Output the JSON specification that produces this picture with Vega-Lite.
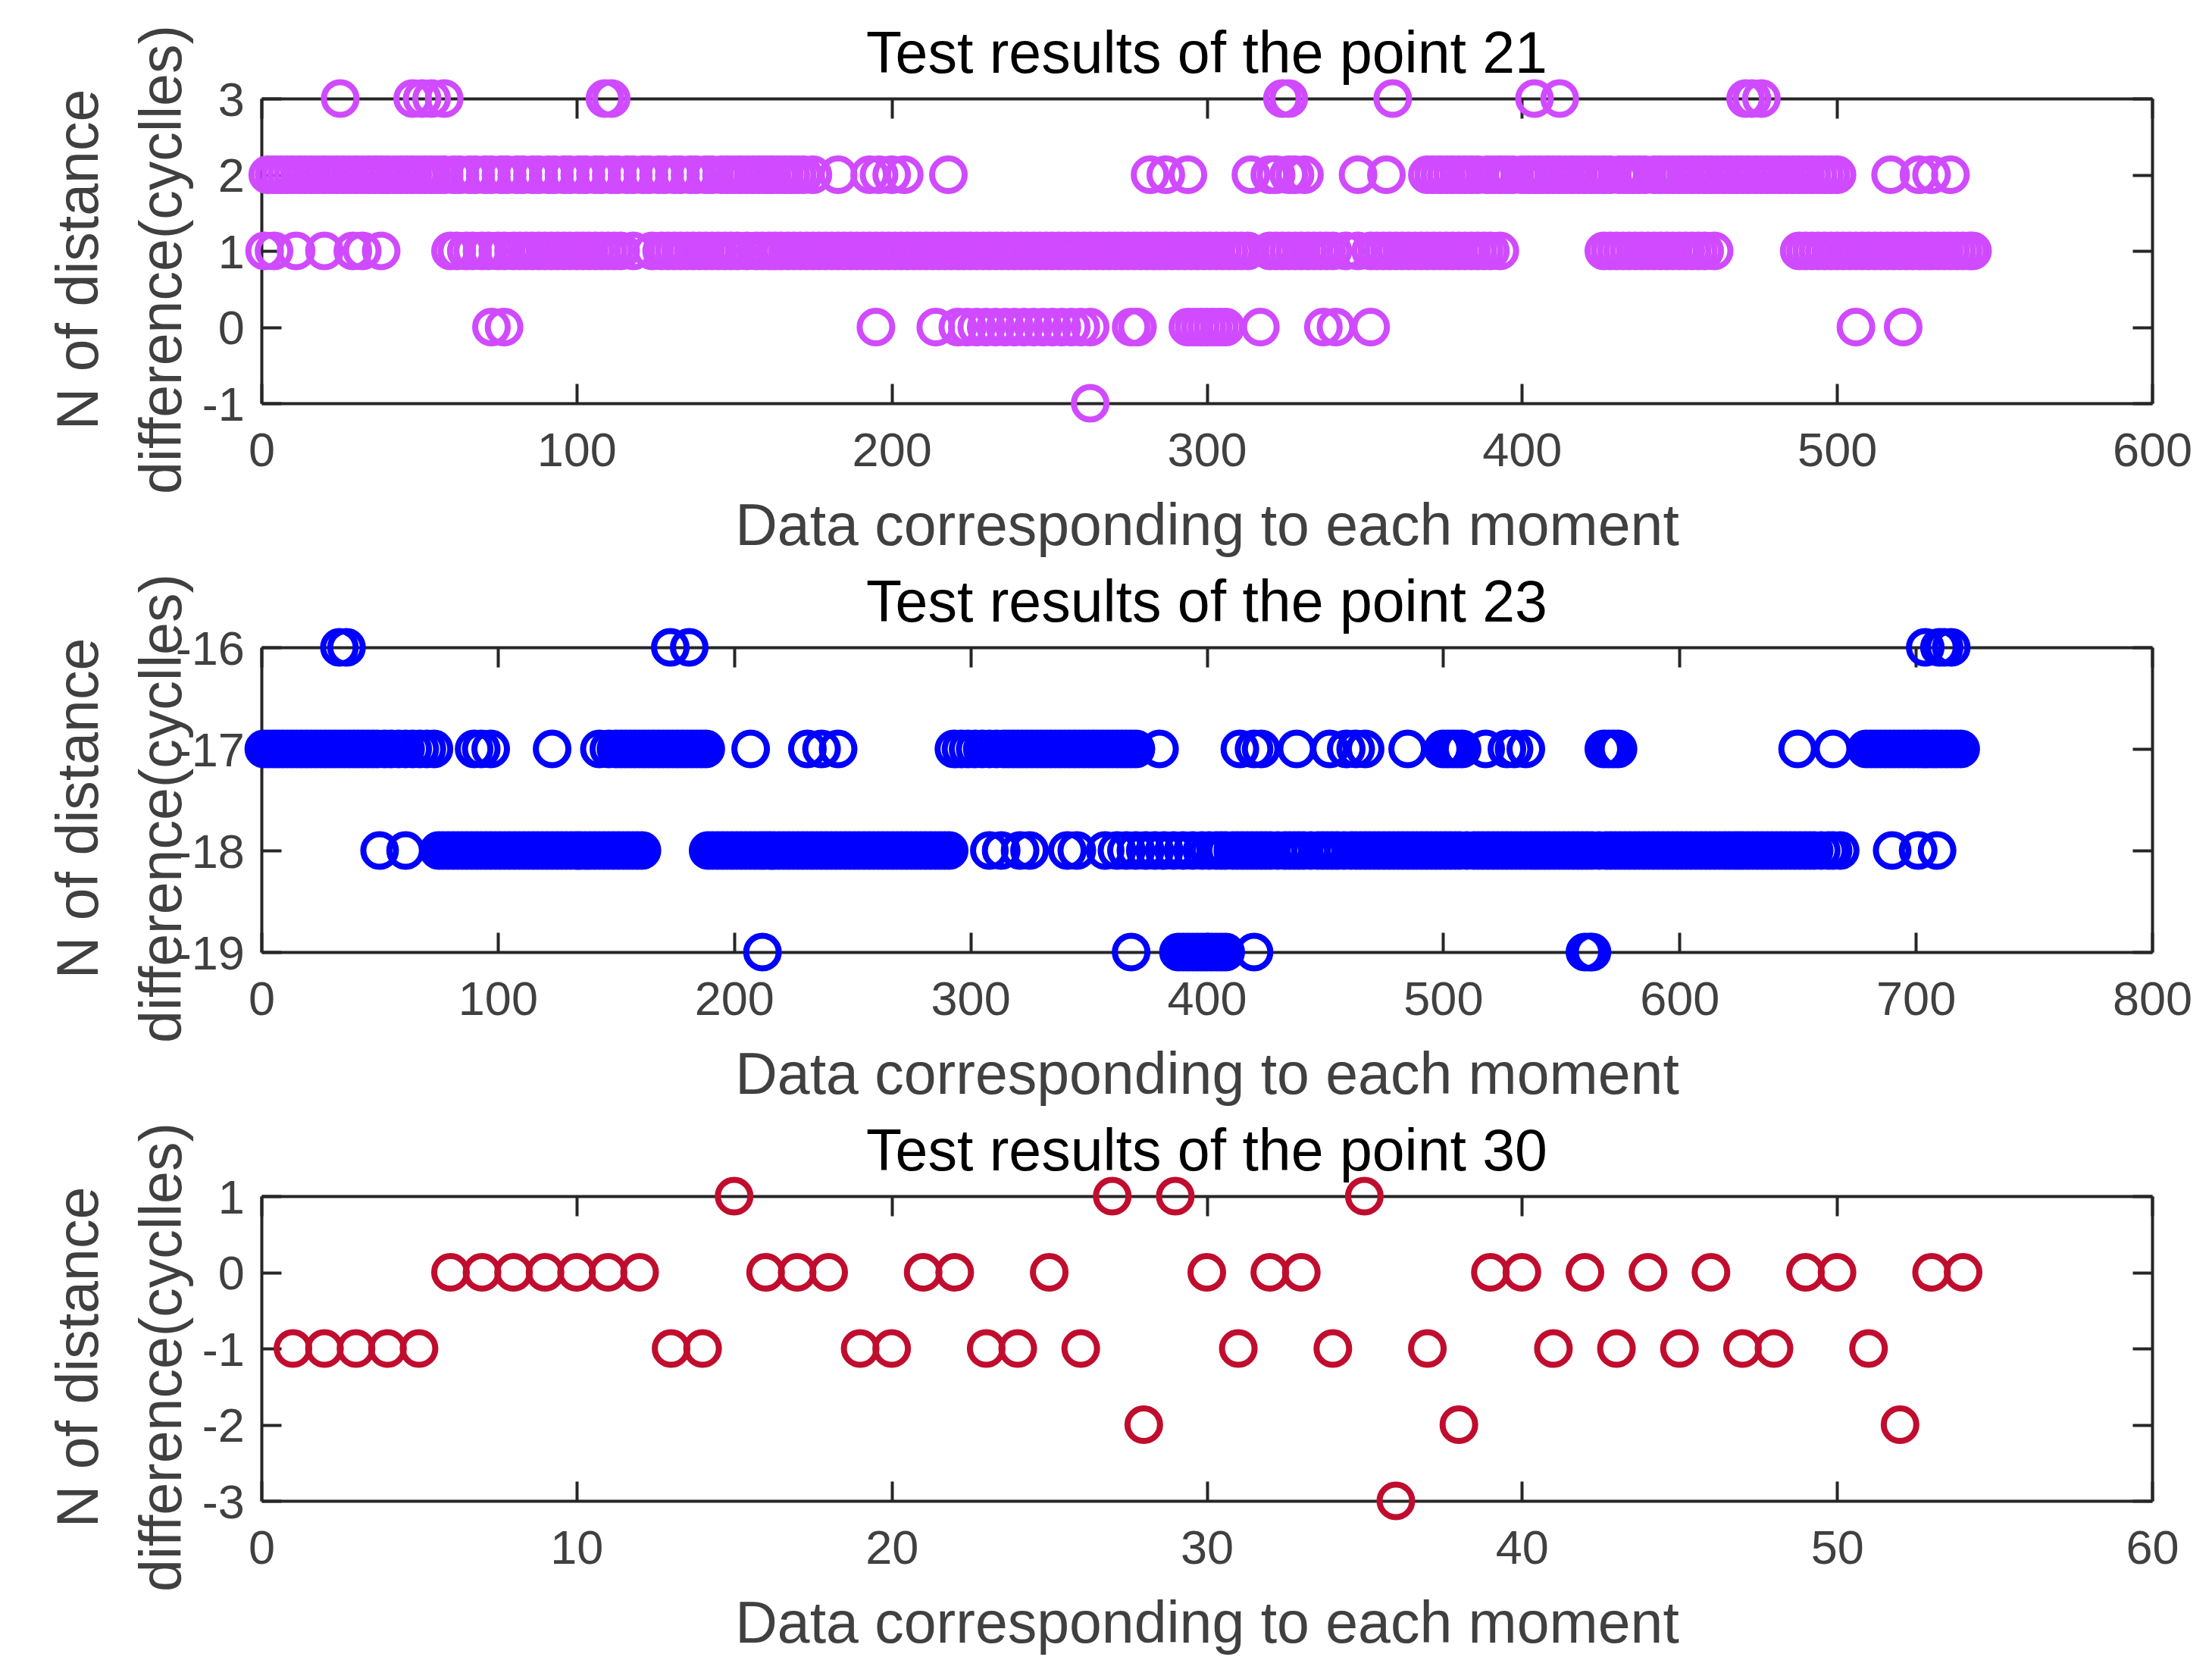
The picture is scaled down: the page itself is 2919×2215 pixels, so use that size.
{
  "$schema": "https://vega.github.io/schema/vega-lite/v6.json",
  "background": "white",
  "padding": {"left": 66, "top": 32, "right": 20, "bottom": 20},
  "bounds": "flush",
  "spacing": 322,
  "config": {
    "view": {"stroke": null},
    "font": "Liberation Sans",
    "axis": {
      "labelFont": "Liberation Sans", "titleFont": "Liberation Sans",
      "labelFontSize": 63, "labelColor": "#404040",
      "titleFontSize": 77, "titleColor": "#404040", "titleFontWeight": "normal",
      "domainColor": "#262626", "domainWidth": 4,
      "tickColor": "#262626", "tickWidth": 4, "tickSize": -26,
      "grid": false, "labelOverlap": false, "labelFlush": false,
      "labelExpr": "toString(datum.value)"
    },
    "axisBottom": {"labelPadding": 58, "titleX": 1247.5, "titleY": 186, "titleBaseline": "alphabetic", "titleAlign": "center", "titleAngle": 0},
    "axisLeft": {"labelPadding": 48.6, "labelOffset": 3, "titleX": -217, "titleY": 212, "titleBaseline": "alphabetic", "titleAlign": "center", "titleAngle": 270, "titleLineHeight": 110},
    "title": {"font": "Liberation Sans", "fontSize": 77, "fontWeight": "normal", "color": "#000000", "baseline": "alphabetic", "offset": -80, "anchor": "middle", "frame": "group"},
    "point": {"shape": "circle", "filled": false, "size": 1850, "strokeWidth": 8, "opacity": 1}
  },
  "vconcat": [
    {
      "width": 2495, "height": 402,
      "title": "Test results of the point 21",
      "data": {"values": [
        {"x":25,"y":3},{"x":48,"y":3},{"x":51,"y":3},{"x":54,"y":3},{"x":58,"y":3},{"x":109,"y":3},{"x":111,"y":3},{"x":324,"y":3},{"x":326,"y":3},{"x":359,"y":3},{"x":404,"y":3},{"x":412,"y":3},{"x":471,"y":3},{"x":473,"y":3},{"x":476,"y":3},
        {"x":2,"y":2},{"x":4,"y":2},{"x":6,"y":2},{"x":8,"y":2},{"x":10,"y":2},{"x":12,"y":2},{"x":14,"y":2},{"x":16,"y":2},{"x":18,"y":2},{"x":20,"y":2},{"x":22,"y":2},{"x":24,"y":2},{"x":26,"y":2},{"x":28,"y":2},{"x":30,"y":2},{"x":32,"y":2},{"x":34,"y":2},{"x":36,"y":2},{"x":38,"y":2},{"x":40,"y":2},{"x":42,"y":2},{"x":44,"y":2},{"x":46,"y":2},{"x":48,"y":2},{"x":50,"y":2},{"x":52,"y":2},{"x":54,"y":2},{"x":56,"y":2},{"x":58,"y":2},
        {"x":61,"y":2},{"x":63,"y":2},{"x":66,"y":2},{"x":68,"y":2},{"x":71,"y":2},{"x":73,"y":2},{"x":76,"y":2},{"x":78,"y":2},{"x":81,"y":2},{"x":83,"y":2},{"x":86,"y":2},{"x":88,"y":2},{"x":91,"y":2},{"x":93,"y":2},{"x":96,"y":2},{"x":98,"y":2},{"x":101,"y":2},{"x":103,"y":2},{"x":106,"y":2},{"x":108,"y":2},{"x":111,"y":2},{"x":113,"y":2},{"x":116,"y":2},{"x":118,"y":2},{"x":121,"y":2},{"x":123,"y":2},{"x":126,"y":2},{"x":128,"y":2},{"x":131,"y":2},{"x":133,"y":2},{"x":136,"y":2},{"x":138,"y":2},{"x":141,"y":2},{"x":143,"y":2},{"x":146,"y":2},{"x":148,"y":2},
        {"x":150,"y":2},{"x":152,"y":2},{"x":154,"y":2},{"x":156,"y":2},{"x":158,"y":2},{"x":160,"y":2},{"x":162,"y":2},{"x":164,"y":2},{"x":166,"y":2},{"x":168,"y":2},{"x":170,"y":2},{"x":172,"y":2},{"x":175,"y":2},{"x":183,"y":2},{"x":193,"y":2},{"x":196,"y":2},{"x":200,"y":2},{"x":204,"y":2},{"x":218,"y":2},
        {"x":282,"y":2},{"x":287,"y":2},{"x":294,"y":2},{"x":314,"y":2},{"x":320,"y":2},{"x":322,"y":2},{"x":326,"y":2},{"x":328,"y":2},{"x":331,"y":2},{"x":348,"y":2},{"x":357,"y":2},
        {"x":370,"y":2},{"x":372,"y":2},{"x":374,"y":2},{"x":376,"y":2},{"x":378,"y":2},{"x":380,"y":2},{"x":382,"y":2},{"x":384,"y":2},{"x":386,"y":2},{"x":389,"y":2},{"x":391,"y":2},{"x":393,"y":2},{"x":395,"y":2},{"x":397,"y":2},{"x":400,"y":2},{"x":402,"y":2},{"x":404,"y":2},{"x":406,"y":2},{"x":408,"y":2},{"x":410,"y":2},{"x":412,"y":2},{"x":414,"y":2},{"x":416,"y":2},{"x":418,"y":2},{"x":420,"y":2},{"x":422,"y":2},{"x":424,"y":2},{"x":426,"y":2},{"x":428,"y":2},{"x":431,"y":2},{"x":433,"y":2},{"x":435,"y":2},{"x":437,"y":2},{"x":439,"y":2},{"x":442,"y":2},{"x":444,"y":2},{"x":446,"y":2},{"x":448,"y":2},{"x":450,"y":2},{"x":452,"y":2},{"x":454,"y":2},{"x":456,"y":2},{"x":458,"y":2},{"x":460,"y":2},{"x":462,"y":2},{"x":464,"y":2},{"x":466,"y":2},{"x":468,"y":2},{"x":470,"y":2},{"x":472,"y":2},{"x":474,"y":2},{"x":476,"y":2},{"x":478,"y":2},{"x":480,"y":2},{"x":482,"y":2},{"x":484,"y":2},{"x":486,"y":2},{"x":488,"y":2},{"x":490,"y":2},{"x":492,"y":2},{"x":494,"y":2},{"x":496,"y":2},{"x":498,"y":2},{"x":500,"y":2},
        {"x":517,"y":2},{"x":526,"y":2},{"x":530,"y":2},{"x":536,"y":2},
        {"x":1,"y":1},{"x":4,"y":1},{"x":11,"y":1},{"x":20,"y":1},{"x":29,"y":1},{"x":32,"y":1},{"x":38,"y":1},
        {"x":60,"y":1},{"x":62,"y":1},{"x":65,"y":1},{"x":67,"y":1},{"x":70,"y":1},{"x":72,"y":1},{"x":75,"y":1},{"x":77,"y":1},{"x":80,"y":1},{"x":82,"y":1},{"x":84,"y":1},{"x":86,"y":1},{"x":88,"y":1},{"x":90,"y":1},{"x":92,"y":1},{"x":94,"y":1},{"x":96,"y":1},{"x":98,"y":1},{"x":100,"y":1},{"x":102,"y":1},{"x":104,"y":1},{"x":106,"y":1},{"x":108,"y":1},{"x":110,"y":1},{"x":112,"y":1},{"x":114,"y":1},{"x":118,"y":1},{"x":124,"y":1},{"x":127,"y":1},{"x":129,"y":1},{"x":131,"y":1},{"x":133,"y":1},{"x":135,"y":1},{"x":137,"y":1},{"x":139,"y":1},{"x":141,"y":1},{"x":143,"y":1},{"x":145,"y":1},{"x":147,"y":1},{"x":149,"y":1},{"x":151,"y":1},{"x":154,"y":1},{"x":157,"y":1},{"x":159,"y":1},{"x":161,"y":1},{"x":163,"y":1},{"x":165,"y":1},{"x":167,"y":1},{"x":169,"y":1},{"x":171,"y":1},{"x":173,"y":1},{"x":175,"y":1},{"x":177,"y":1},{"x":179,"y":1},{"x":181,"y":1},{"x":183,"y":1},{"x":185,"y":1},{"x":187,"y":1},{"x":189,"y":1},{"x":191,"y":1},{"x":193,"y":1},{"x":195,"y":1},{"x":197,"y":1},{"x":199,"y":1},{"x":201,"y":1},{"x":203,"y":1},{"x":205,"y":1},{"x":207,"y":1},{"x":209,"y":1},{"x":211,"y":1},{"x":213,"y":1},{"x":215,"y":1},{"x":217,"y":1},{"x":219,"y":1},{"x":221,"y":1},{"x":223,"y":1},{"x":225,"y":1},{"x":227,"y":1},{"x":229,"y":1},{"x":231,"y":1},{"x":233,"y":1},{"x":235,"y":1},{"x":237,"y":1},{"x":239,"y":1},{"x":241,"y":1},{"x":243,"y":1},{"x":245,"y":1},{"x":247,"y":1},{"x":249,"y":1},{"x":251,"y":1},{"x":253,"y":1},{"x":255,"y":1},{"x":257,"y":1},{"x":259,"y":1},{"x":261,"y":1},{"x":263,"y":1},{"x":265,"y":1},{"x":267,"y":1},{"x":269,"y":1},{"x":271,"y":1},{"x":273,"y":1},{"x":275,"y":1},{"x":277,"y":1},{"x":279,"y":1},{"x":281,"y":1},{"x":283,"y":1},{"x":285,"y":1},{"x":287,"y":1},{"x":289,"y":1},{"x":291,"y":1},{"x":293,"y":1},{"x":295,"y":1},{"x":297,"y":1},{"x":299,"y":1},{"x":301,"y":1},{"x":303,"y":1},{"x":305,"y":1},{"x":307,"y":1},{"x":309,"y":1},{"x":311,"y":1},{"x":313,"y":1},{"x":320,"y":1},{"x":322,"y":1},{"x":324,"y":1},{"x":326,"y":1},{"x":328,"y":1},{"x":330,"y":1},{"x":332,"y":1},{"x":334,"y":1},{"x":336,"y":1},{"x":338,"y":1},{"x":340,"y":1},{"x":344,"y":1},{"x":348,"y":1},{"x":352,"y":1},{"x":354,"y":1},{"x":356,"y":1},{"x":358,"y":1},{"x":360,"y":1},{"x":362,"y":1},{"x":364,"y":1},{"x":366,"y":1},{"x":368,"y":1},{"x":370,"y":1},{"x":372,"y":1},{"x":374,"y":1},{"x":376,"y":1},{"x":378,"y":1},{"x":380,"y":1},{"x":382,"y":1},{"x":384,"y":1},{"x":386,"y":1},{"x":388,"y":1},{"x":390,"y":1},{"x":393,"y":1},
        {"x":426,"y":1},{"x":428,"y":1},{"x":430,"y":1},{"x":432,"y":1},{"x":434,"y":1},{"x":436,"y":1},{"x":438,"y":1},{"x":440,"y":1},{"x":442,"y":1},{"x":444,"y":1},{"x":446,"y":1},{"x":448,"y":1},{"x":450,"y":1},{"x":452,"y":1},{"x":454,"y":1},{"x":456,"y":1},{"x":458,"y":1},{"x":461,"y":1},
        {"x":488,"y":1},{"x":490,"y":1},{"x":492,"y":1},{"x":494,"y":1},{"x":496,"y":1},{"x":498,"y":1},{"x":500,"y":1},{"x":502,"y":1},{"x":504,"y":1},{"x":506,"y":1},{"x":508,"y":1},{"x":510,"y":1},{"x":512,"y":1},{"x":514,"y":1},{"x":516,"y":1},{"x":518,"y":1},{"x":520,"y":1},{"x":522,"y":1},{"x":524,"y":1},{"x":526,"y":1},{"x":528,"y":1},{"x":530,"y":1},{"x":532,"y":1},{"x":534,"y":1},{"x":536,"y":1},{"x":538,"y":1},{"x":540,"y":1},{"x":542,"y":1},{"x":543,"y":1},
        {"x":73,"y":0},{"x":77,"y":0},{"x":195,"y":0},{"x":214,"y":0},{"x":221,"y":0},{"x":224,"y":0},{"x":227,"y":0},{"x":230,"y":0},{"x":233,"y":0},{"x":236,"y":0},{"x":239,"y":0},{"x":242,"y":0},{"x":245,"y":0},{"x":248,"y":0},{"x":251,"y":0},{"x":254,"y":0},{"x":257,"y":0},{"x":260,"y":0},{"x":263,"y":0},{"x":276,"y":0},{"x":278,"y":0},{"x":294,"y":0},{"x":296,"y":0},{"x":298,"y":0},{"x":300,"y":0},{"x":302,"y":0},{"x":304,"y":0},{"x":306,"y":0},{"x":317,"y":0},{"x":337,"y":0},{"x":341,"y":0},{"x":352,"y":0},{"x":506,"y":0},{"x":521,"y":0},
        {"x":263,"y":-1}
      ]},
      "layer": [
        {"mark": {"type": "point", "color": "#D04AFF"},
         "encoding": {
           "x": {"field": "x", "type": "quantitative", "scale": {"domain": [0, 600], "nice": false, "zero": false},
                 "axis": {"orient": "bottom", "values": [0,100,200,300,400,500,600], "title": "Data corresponding to each moment"}},
           "y": {"field": "y", "type": "quantitative", "scale": {"domain": [-1, 3], "nice": false, "zero": false},
                 "axis": {"orient": "left", "values": [-1,0,1,2,3], "title": ["N of distance", "difference(cyclles)"]}}
         }},
        {"mark": {"type": "point", "opacity": 0},
         "encoding": {
           "x": {"field": "x", "type": "quantitative", "scale": {"domain": [0, 600], "nice": false, "zero": false},
                 "axis": {"orient": "top", "values": [0,100,200,300,400,500,600], "labels": false, "title": null}},
           "y": {"field": "y", "type": "quantitative", "scale": {"domain": [-1, 3], "nice": false, "zero": false},
                 "axis": {"orient": "right", "values": [-1,0,1,2,3], "labels": false, "title": null}}
         }}
      ],
      "resolve": {"axis": {"x": "independent", "y": "independent"}}
    },
    {
      "width": 2495, "height": 402,
      "title": "Test results of the point 23",
      "data": {"values": [
        {"x":33,"y":-16},{"x":36,"y":-16},{"x":173,"y":-16},{"x":181,"y":-16},{"x":704,"y":-16},{"x":710,"y":-16},{"x":712,"y":-16},{"x":715,"y":-16},
        {"x":1,"y":-17},{"x":3,"y":-17},{"x":5,"y":-17},{"x":7,"y":-17},{"x":9,"y":-17},{"x":11,"y":-17},{"x":13,"y":-17},{"x":15,"y":-17},{"x":17,"y":-17},{"x":19,"y":-17},{"x":21,"y":-17},{"x":23,"y":-17},{"x":25,"y":-17},{"x":27,"y":-17},{"x":29,"y":-17},{"x":31,"y":-17},{"x":33,"y":-17},{"x":35,"y":-17},{"x":37,"y":-17},{"x":39,"y":-17},{"x":41,"y":-17},{"x":43,"y":-17},{"x":45,"y":-17},{"x":47,"y":-17},{"x":49,"y":-17},{"x":52,"y":-17},{"x":55,"y":-17},{"x":58,"y":-17},{"x":61,"y":-17},{"x":64,"y":-17},{"x":67,"y":-17},{"x":70,"y":-17},{"x":73,"y":-17},{"x":90,"y":-17},{"x":93,"y":-17},{"x":97,"y":-17},
        {"x":123,"y":-17},{"x":143,"y":-17},{"x":147,"y":-17},{"x":150,"y":-17},{"x":152,"y":-17},{"x":154,"y":-17},{"x":156,"y":-17},{"x":158,"y":-17},{"x":160,"y":-17},{"x":162,"y":-17},{"x":164,"y":-17},{"x":166,"y":-17},{"x":168,"y":-17},{"x":170,"y":-17},{"x":172,"y":-17},{"x":174,"y":-17},{"x":176,"y":-17},{"x":178,"y":-17},{"x":180,"y":-17},{"x":182,"y":-17},{"x":184,"y":-17},{"x":186,"y":-17},{"x":188,"y":-17},
        {"x":207,"y":-17},{"x":231,"y":-17},{"x":237,"y":-17},{"x":244,"y":-17},
        {"x":293,"y":-17},{"x":296,"y":-17},{"x":299,"y":-17},{"x":302,"y":-17},{"x":305,"y":-17},{"x":308,"y":-17},{"x":311,"y":-17},{"x":314,"y":-17},{"x":316,"y":-17},{"x":318,"y":-17},{"x":320,"y":-17},{"x":322,"y":-17},{"x":324,"y":-17},{"x":326,"y":-17},{"x":328,"y":-17},{"x":330,"y":-17},{"x":332,"y":-17},{"x":334,"y":-17},{"x":336,"y":-17},{"x":338,"y":-17},{"x":340,"y":-17},{"x":342,"y":-17},{"x":344,"y":-17},{"x":346,"y":-17},{"x":348,"y":-17},{"x":350,"y":-17},{"x":352,"y":-17},{"x":354,"y":-17},{"x":356,"y":-17},{"x":358,"y":-17},{"x":360,"y":-17},{"x":362,"y":-17},{"x":364,"y":-17},{"x":366,"y":-17},{"x":368,"y":-17},{"x":370,"y":-17},{"x":380,"y":-17},
        {"x":414,"y":-17},{"x":420,"y":-17},{"x":423,"y":-17},{"x":438,"y":-17},{"x":452,"y":-17},{"x":459,"y":-17},{"x":463,"y":-17},{"x":467,"y":-17},{"x":485,"y":-17},{"x":500,"y":-17},{"x":502,"y":-17},{"x":504,"y":-17},{"x":506,"y":-17},{"x":508,"y":-17},{"x":518,"y":-17},{"x":527,"y":-17},{"x":530,"y":-17},{"x":535,"y":-17},{"x":568,"y":-17},{"x":570,"y":-17},{"x":572,"y":-17},{"x":574,"y":-17},
        {"x":650,"y":-17},{"x":665,"y":-17},{"x":679,"y":-17},{"x":681,"y":-17},{"x":683,"y":-17},{"x":685,"y":-17},{"x":687,"y":-17},{"x":689,"y":-17},{"x":691,"y":-17},{"x":693,"y":-17},{"x":695,"y":-17},{"x":697,"y":-17},{"x":699,"y":-17},{"x":701,"y":-17},{"x":703,"y":-17},{"x":705,"y":-17},{"x":707,"y":-17},{"x":709,"y":-17},{"x":711,"y":-17},{"x":713,"y":-17},{"x":715,"y":-17},{"x":717,"y":-17},{"x":719,"y":-17},
        {"x":50,"y":-18},{"x":61,"y":-18},{"x":75,"y":-18},{"x":77,"y":-18},{"x":79,"y":-18},{"x":81,"y":-18},{"x":83,"y":-18},{"x":85,"y":-18},{"x":87,"y":-18},{"x":89,"y":-18},{"x":91,"y":-18},{"x":93,"y":-18},{"x":95,"y":-18},{"x":97,"y":-18},{"x":99,"y":-18},{"x":101,"y":-18},{"x":103,"y":-18},{"x":105,"y":-18},{"x":107,"y":-18},{"x":109,"y":-18},{"x":111,"y":-18},{"x":113,"y":-18},{"x":115,"y":-18},{"x":117,"y":-18},{"x":119,"y":-18},{"x":121,"y":-18},{"x":123,"y":-18},{"x":125,"y":-18},{"x":127,"y":-18},{"x":129,"y":-18},{"x":131,"y":-18},{"x":133,"y":-18},{"x":135,"y":-18},{"x":137,"y":-18},{"x":139,"y":-18},{"x":141,"y":-18},{"x":143,"y":-18},{"x":145,"y":-18},{"x":147,"y":-18},{"x":149,"y":-18},{"x":151,"y":-18},{"x":153,"y":-18},{"x":155,"y":-18},{"x":157,"y":-18},{"x":159,"y":-18},{"x":161,"y":-18},
        {"x":189,"y":-18},{"x":191,"y":-18},{"x":193,"y":-18},{"x":195,"y":-18},{"x":197,"y":-18},{"x":199,"y":-18},{"x":201,"y":-18},{"x":203,"y":-18},{"x":205,"y":-18},{"x":207,"y":-18},{"x":209,"y":-18},{"x":211,"y":-18},{"x":213,"y":-18},{"x":215,"y":-18},{"x":217,"y":-18},{"x":219,"y":-18},{"x":221,"y":-18},{"x":223,"y":-18},{"x":225,"y":-18},{"x":227,"y":-18},{"x":229,"y":-18},{"x":231,"y":-18},{"x":233,"y":-18},{"x":235,"y":-18},{"x":237,"y":-18},{"x":239,"y":-18},{"x":241,"y":-18},{"x":243,"y":-18},{"x":245,"y":-18},{"x":247,"y":-18},{"x":249,"y":-18},{"x":251,"y":-18},{"x":253,"y":-18},{"x":255,"y":-18},{"x":257,"y":-18},{"x":259,"y":-18},{"x":261,"y":-18},{"x":263,"y":-18},{"x":265,"y":-18},{"x":267,"y":-18},{"x":269,"y":-18},{"x":271,"y":-18},{"x":273,"y":-18},{"x":275,"y":-18},{"x":277,"y":-18},{"x":279,"y":-18},{"x":281,"y":-18},{"x":283,"y":-18},{"x":285,"y":-18},{"x":287,"y":-18},{"x":289,"y":-18},{"x":291,"y":-18},
        {"x":308,"y":-18},{"x":313,"y":-18},{"x":321,"y":-18},{"x":325,"y":-18},{"x":341,"y":-18},{"x":345,"y":-18},{"x":357,"y":-18},{"x":362,"y":-18},{"x":366,"y":-18},{"x":370,"y":-18},{"x":374,"y":-18},{"x":378,"y":-18},{"x":382,"y":-18},{"x":386,"y":-18},{"x":390,"y":-18},{"x":394,"y":-18},{"x":398,"y":-18},
        {"x":401,"y":-18},{"x":404,"y":-18},{"x":406,"y":-18},{"x":408,"y":-18},{"x":411,"y":-18},{"x":413,"y":-18},{"x":415,"y":-18},{"x":417,"y":-18},{"x":419,"y":-18},{"x":421,"y":-18},{"x":423,"y":-18},{"x":425,"y":-18},{"x":427,"y":-18},{"x":430,"y":-18},{"x":433,"y":-18},{"x":435,"y":-18},{"x":437,"y":-18},{"x":439,"y":-18},{"x":441,"y":-18},{"x":444,"y":-18},{"x":447,"y":-18},{"x":449,"y":-18},{"x":451,"y":-18},{"x":453,"y":-18},{"x":455,"y":-18},{"x":458,"y":-18},{"x":461,"y":-18},{"x":463,"y":-18},{"x":465,"y":-18},{"x":467,"y":-18},{"x":469,"y":-18},{"x":471,"y":-18},{"x":473,"y":-18},{"x":475,"y":-18},{"x":477,"y":-18},{"x":479,"y":-18},{"x":481,"y":-18},{"x":483,"y":-18},{"x":485,"y":-18},{"x":487,"y":-18},{"x":489,"y":-18},{"x":491,"y":-18},{"x":493,"y":-18},{"x":495,"y":-18},{"x":497,"y":-18},{"x":499,"y":-18},{"x":501,"y":-18},{"x":503,"y":-18},{"x":505,"y":-18},{"x":507,"y":-18},{"x":510,"y":-18},{"x":513,"y":-18},{"x":515,"y":-18},{"x":517,"y":-18},{"x":519,"y":-18},{"x":521,"y":-18},{"x":523,"y":-18},{"x":525,"y":-18},{"x":527,"y":-18},{"x":529,"y":-18},{"x":531,"y":-18},{"x":533,"y":-18},{"x":535,"y":-18},{"x":537,"y":-18},{"x":539,"y":-18},{"x":541,"y":-18},{"x":543,"y":-18},{"x":545,"y":-18},{"x":547,"y":-18},{"x":549,"y":-18},{"x":551,"y":-18},{"x":553,"y":-18},{"x":555,"y":-18},{"x":557,"y":-18},{"x":559,"y":-18},{"x":561,"y":-18},{"x":563,"y":-18},{"x":566,"y":-18},{"x":569,"y":-18},{"x":571,"y":-18},{"x":573,"y":-18},{"x":575,"y":-18},{"x":577,"y":-18},{"x":579,"y":-18},{"x":581,"y":-18},{"x":583,"y":-18},{"x":585,"y":-18},{"x":587,"y":-18},{"x":589,"y":-18},{"x":591,"y":-18},{"x":593,"y":-18},{"x":595,"y":-18},{"x":597,"y":-18},{"x":599,"y":-18},{"x":601,"y":-18},{"x":603,"y":-18},{"x":605,"y":-18},{"x":607,"y":-18},{"x":609,"y":-18},{"x":611,"y":-18},{"x":613,"y":-18},{"x":615,"y":-18},{"x":617,"y":-18},{"x":619,"y":-18},{"x":621,"y":-18},{"x":623,"y":-18},{"x":625,"y":-18},{"x":627,"y":-18},{"x":629,"y":-18},{"x":631,"y":-18},{"x":633,"y":-18},{"x":635,"y":-18},{"x":637,"y":-18},{"x":639,"y":-18},{"x":641,"y":-18},{"x":643,"y":-18},{"x":645,"y":-18},{"x":647,"y":-18},{"x":649,"y":-18},{"x":651,"y":-18},{"x":653,"y":-18},{"x":655,"y":-18},{"x":657,"y":-18},{"x":660,"y":-18},{"x":663,"y":-18},{"x":665,"y":-18},{"x":668,"y":-18},
        {"x":690,"y":-18},{"x":701,"y":-18},{"x":709,"y":-18},
        {"x":212,"y":-19},{"x":368,"y":-19},{"x":388,"y":-19},{"x":390,"y":-19},{"x":392,"y":-19},{"x":394,"y":-19},{"x":396,"y":-19},{"x":398,"y":-19},{"x":400,"y":-19},{"x":402,"y":-19},{"x":404,"y":-19},{"x":406,"y":-19},{"x":408,"y":-19},{"x":420,"y":-19},{"x":560,"y":-19},{"x":562,"y":-19},{"x":563,"y":-19}
      ]},
      "layer": [
        {"mark": {"type": "point", "color": "#0000FF"},
         "encoding": {
           "x": {"field": "x", "type": "quantitative", "scale": {"domain": [0, 800], "nice": false, "zero": false},
                 "axis": {"orient": "bottom", "values": [0,100,200,300,400,500,600,700,800], "title": "Data corresponding to each moment"}},
           "y": {"field": "y", "type": "quantitative", "scale": {"domain": [-19, -16], "nice": false, "zero": false},
                 "axis": {"orient": "left", "values": [-19,-18,-17,-16], "title": ["N of distance", "difference(cyclles)"]}}
         }},
        {"mark": {"type": "point", "opacity": 0},
         "encoding": {
           "x": {"field": "x", "type": "quantitative", "scale": {"domain": [0, 800], "nice": false, "zero": false},
                 "axis": {"orient": "top", "values": [0,100,200,300,400,500,600,700,800], "labels": false, "title": null}},
           "y": {"field": "y", "type": "quantitative", "scale": {"domain": [-19, -16], "nice": false, "zero": false},
                 "axis": {"orient": "right", "values": [-19,-18,-17,-16], "labels": false, "title": null}}
         }}
      ],
      "resolve": {"axis": {"x": "independent", "y": "independent"}}
    },
    {
      "width": 2495, "height": 402,
      "title": "Test results of the point 30",
      "data": {"values": [
        {"x":1,"y":-1},{"x":2,"y":-1},{"x":3,"y":-1},{"x":4,"y":-1},{"x":5,"y":-1},{"x":6,"y":0},{"x":7,"y":0},{"x":8,"y":0},{"x":9,"y":0},{"x":10,"y":0},
        {"x":11,"y":0},{"x":12,"y":0},{"x":13,"y":-1},{"x":14,"y":-1},{"x":15,"y":1},{"x":16,"y":0},{"x":17,"y":0},{"x":18,"y":0},{"x":19,"y":-1},{"x":20,"y":-1},
        {"x":21,"y":0},{"x":22,"y":0},{"x":23,"y":-1},{"x":24,"y":-1},{"x":25,"y":0},{"x":26,"y":-1},{"x":27,"y":1},{"x":28,"y":-2},{"x":29,"y":1},{"x":30,"y":0},
        {"x":31,"y":-1},{"x":32,"y":0},{"x":33,"y":0},{"x":34,"y":-1},{"x":35,"y":1},{"x":36,"y":-3},{"x":37,"y":-1},{"x":38,"y":-2},{"x":39,"y":0},{"x":40,"y":0},
        {"x":41,"y":-1},{"x":42,"y":0},{"x":43,"y":-1},{"x":44,"y":0},{"x":45,"y":-1},{"x":46,"y":0},{"x":47,"y":-1},{"x":48,"y":-1},{"x":49,"y":0},{"x":50,"y":0},
        {"x":51,"y":-1},{"x":52,"y":-2},{"x":53,"y":0},{"x":54,"y":0}
      ]},
      "layer": [
        {"mark": {"type": "point", "color": "#C00D2E"},
         "encoding": {
           "x": {"field": "x", "type": "quantitative", "scale": {"domain": [0, 60], "nice": false, "zero": false},
                 "axis": {"orient": "bottom", "values": [0,10,20,30,40,50,60], "title": "Data corresponding to each moment"}},
           "y": {"field": "y", "type": "quantitative", "scale": {"domain": [-3, 1], "nice": false, "zero": false},
                 "axis": {"orient": "left", "values": [-3,-2,-1,0,1], "title": ["N of distance", "difference(cyclles)"]}}
         }},
        {"mark": {"type": "point", "opacity": 0},
         "encoding": {
           "x": {"field": "x", "type": "quantitative", "scale": {"domain": [0, 60], "nice": false, "zero": false},
                 "axis": {"orient": "top", "values": [0,10,20,30,40,50,60], "labels": false, "title": null}},
           "y": {"field": "y", "type": "quantitative", "scale": {"domain": [-3, 1], "nice": false, "zero": false},
                 "axis": {"orient": "right", "values": [-3,-2,-1,0,1], "labels": false, "title": null}}
         }}
      ],
      "resolve": {"axis": {"x": "independent", "y": "independent"}}
    }
  ]
}
